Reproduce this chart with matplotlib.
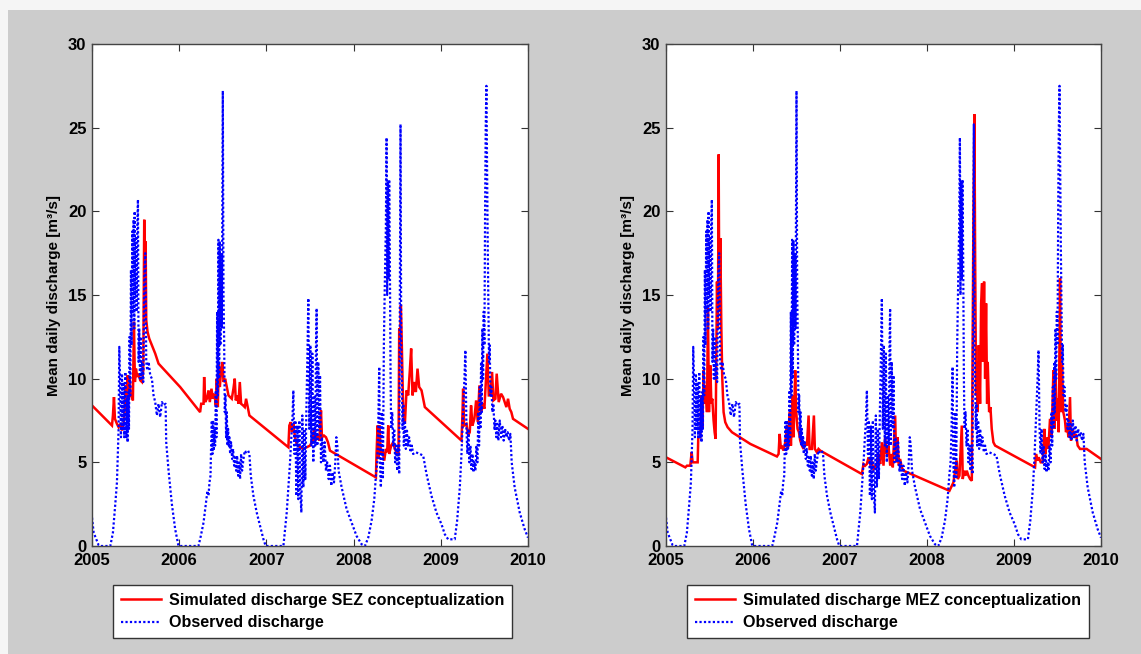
import matplotlib
matplotlib.use('Agg')
import numpy as np
import matplotlib.pyplot as plt
from matplotlib.patches import Rectangle

# observed discharge (decimal year, m3/s)
obs_t = [2005.000, 2005.019, 2005.076, 2005.095, 2005.210, 2005.240, 2005.267, 2005.286, 2005.305, 2005.313,
         2005.324, 2005.332, 2005.344, 2005.351, 2005.363, 2005.370, 2005.382, 2005.393, 2005.401, 2005.408,
         2005.416, 2005.424, 2005.431, 2005.439, 2005.447, 2005.454, 2005.462, 2005.469, 2005.477, 2005.485,
         2005.489, 2005.496, 2005.504, 2005.511, 2005.519, 2005.527, 2005.534, 2005.542, 2005.550, 2005.557,
         2005.565, 2005.576, 2005.588, 2005.599, 2005.611, 2005.622, 2005.634, 2005.649, 2005.668, 2005.687,
         2005.706, 2005.725, 2005.744, 2005.763, 2005.782, 2005.802, 2005.821, 2005.844, 2005.851, 2005.878,
         2005.916, 2005.954, 2005.992,
         2006.221, 2006.248, 2006.279, 2006.305, 2006.324, 2006.336, 2006.347, 2006.359, 2006.366, 2006.374,
         2006.382, 2006.389, 2006.397, 2006.405, 2006.412, 2006.420, 2006.427, 2006.435, 2006.443, 2006.450,
         2006.458, 2006.466, 2006.473, 2006.481, 2006.489, 2006.496, 2006.500, 2006.508, 2006.515, 2006.523,
         2006.531, 2006.538, 2006.546, 2006.553, 2006.561, 2006.569, 2006.576, 2006.584, 2006.595, 2006.607,
         2006.618, 2006.630, 2006.641, 2006.653, 2006.664, 2006.676, 2006.687, 2006.698, 2006.710, 2006.721,
         2006.737, 2006.752, 2006.767, 2006.790, 2006.805, 2006.821, 2006.851, 2006.889, 2006.927, 2006.966,
         2006.992,
         2007.195, 2007.214, 2007.233, 2007.252, 2007.271, 2007.286, 2007.298, 2007.309, 2007.321, 2007.332,
         2007.344, 2007.355, 2007.366, 2007.378, 2007.389, 2007.401, 2007.412, 2007.424, 2007.435, 2007.447,
         2007.458, 2007.469, 2007.481, 2007.492, 2007.504, 2007.515, 2007.527, 2007.538, 2007.550, 2007.561,
         2007.569, 2007.576, 2007.584, 2007.595, 2007.607, 2007.615, 2007.626, 2007.637, 2007.653, 2007.668,
         2007.683, 2007.698, 2007.714, 2007.729, 2007.744, 2007.760, 2007.775, 2007.790, 2007.802, 2007.813,
         2007.828, 2007.863, 2007.920, 2007.977,
         2008.034, 2008.092, 2008.130, 2008.168, 2008.206, 2008.237, 2008.256, 2008.271, 2008.282, 2008.294,
         2008.302, 2008.313, 2008.324, 2008.336, 2008.347, 2008.359, 2008.370, 2008.378, 2008.385, 2008.393,
         2008.401, 2008.408, 2008.416, 2008.424, 2008.431, 2008.443, 2008.454, 2008.466, 2008.477, 2008.489,
         2008.500, 2008.511, 2008.523, 2008.531, 2008.538, 2008.546, 2008.553, 2008.561, 2008.569, 2008.576,
         2008.588, 2008.599, 2008.611, 2008.622, 2008.637, 2008.653, 2008.668, 2008.683, 2008.714, 2008.760,
         2008.798, 2008.836, 2008.893, 2008.950,
         2009.008, 2009.046, 2009.084, 2009.160, 2009.187, 2009.218, 2009.237, 2009.256, 2009.271, 2009.282,
         2009.294, 2009.305, 2009.317, 2009.328, 2009.340, 2009.351, 2009.363, 2009.374, 2009.385, 2009.397,
         2009.408, 2009.420, 2009.431, 2009.439, 2009.447, 2009.454, 2009.462, 2009.469, 2009.477, 2009.485,
         2009.492, 2009.500, 2009.508, 2009.515, 2009.523, 2009.531, 2009.538, 2009.546, 2009.553, 2009.561,
         2009.569, 2009.580, 2009.592, 2009.603, 2009.615, 2009.626, 2009.637, 2009.649, 2009.660, 2009.676,
         2009.691, 2009.706, 2009.721, 2009.737, 2009.752, 2009.767, 2009.782, 2009.798, 2009.813, 2009.847,
         2009.905, 2009.962, 2010.000]
obs_q = [1.7, 0.8, 0.05, 0, 0, 0.8, 2.5, 3.8, 7.0, 11.9,
         9.5, 6.5, 10.3, 7.0, 9.8, 6.5, 10.4, 6.5, 8.8, 6.2,
         9.2, 7.0, 12.5, 9.0, 16.5, 12.0, 18.8, 14.0, 19.5, 13.0,
         20.0, 15.0, 18.5, 14.0, 19.0, 20.7, 11.0, 13.0, 10.0, 12.5,
         10.0, 11.0, 9.8, 16.0, 17.5, 11.0, 10.5, 11.0, 10.2, 10.0,
         9.0, 8.6, 7.8, 8.5, 7.7, 8.6, 8.4, 8.5, 6.2, 4.5,
         2.5, 1.0, 0,
         0, 0.6, 1.4, 2.5, 3.3, 3.0, 3.8, 4.2, 6.0, 7.5,
         5.5, 7.5, 5.7, 7.0, 6.0, 9.3, 6.5, 14.0, 9.0, 18.3,
         10.0, 18.2, 12.0, 17.5, 13.0, 23.0, 27.2, 15.0, 12.5, 8.0,
         9.0, 6.5, 8.0, 6.0, 7.0, 6.0, 6.5, 5.5, 6.2, 5.2,
         5.8, 4.8, 5.3, 4.5, 5.4, 4.2, 5.0, 4.0, 5.5, 4.5,
         5.2, 5.7, 5.6, 5.7, 5.5, 4.2, 3.0, 2.0, 1.2, 0.4,
         0,
         0, 1.0, 2.0, 3.5, 5.0, 6.5, 7.5, 9.3, 5.5, 7.5,
         3.0, 7.2, 2.8, 7.5, 3.2, 2.0, 7.8, 3.5, 7.0, 4.0,
         8.0, 11.0, 14.8, 7.0, 12.0, 6.0, 11.5, 5.0, 9.0, 6.0,
         12.0, 14.2, 6.0, 11.0, 7.0, 10.2, 5.0, 6.5, 5.0, 6.2,
         4.5, 5.0, 4.0, 4.8, 3.6, 4.4, 3.8, 5.0, 6.5, 6.0,
         4.5, 3.5, 2.2, 1.4,
         0.6, 0.1, 0, 0.5, 1.5, 2.8, 4.2, 5.0, 7.0, 10.7,
         5.0, 3.5, 8.0, 4.0, 12.0, 16.0, 19.0, 24.4, 15.0, 21.8,
         16.0, 21.9, 17.0, 10.0, 7.0, 8.0, 6.0, 7.0, 5.0, 6.0,
         4.5, 6.0, 4.3, 15.0, 25.2, 12.0, 10.0, 7.0, 8.5, 6.0,
         7.5, 5.8, 7.0, 6.0, 6.5, 5.6, 6.0, 5.5, 5.6, 5.5,
         5.4, 4.3, 3.0, 2.0,
         1.3, 0.7, 0.4, 0.4, 1.5, 3.5, 5.5, 8.0, 10.0, 11.7,
         7.0, 5.5, 7.0, 5.0, 6.0, 4.6, 5.5, 4.4, 5.0, 4.5,
         6.0, 5.0, 8.0, 6.0, 9.5, 7.0, 11.0, 8.0, 13.0, 10.0,
         14.0, 12.0, 20.0, 25.0, 27.5, 22.0, 18.0, 14.0, 11.0, 12.0,
         9.0, 9.5, 8.0, 8.5, 7.0, 7.5, 6.5, 7.3, 6.3, 7.5,
         6.5, 7.2, 6.3, 7.0, 6.5, 6.8, 6.3, 6.7, 5.0, 3.5,
         2.0, 1.0, 0.5]

# simulated discharge, single elevation zone model
sez_t = [2005.000, 2005.229, 2005.240, 2005.252, 2005.263, 2005.286, 2005.305, 2005.324, 2005.344, 2005.363,
         2005.374, 2005.385, 2005.397, 2005.408, 2005.420, 2005.431, 2005.443, 2005.458, 2005.469, 2005.481,
         2005.492, 2005.504, 2005.519, 2005.534, 2005.553, 2005.573, 2005.588, 2005.599, 2005.607, 2005.615,
         2005.622, 2005.637, 2005.656, 2005.687, 2005.725, 2005.763, 2006.011, 2006.240,
         2006.252, 2006.279, 2006.286, 2006.298, 2006.317, 2006.336, 2006.351, 2006.370, 2006.385, 2006.405,
         2006.420, 2006.431, 2006.443, 2006.454, 2006.466, 2006.481, 2006.496, 2006.508, 2006.527, 2006.546,
         2006.565, 2006.584, 2006.603, 2006.622, 2006.637, 2006.649, 2006.668, 2006.679, 2006.695, 2006.710,
         2006.733, 2006.752, 2006.767, 2006.786, 2006.805, 2007.252,
         2007.263, 2007.279, 2007.294, 2007.309, 2007.328, 2007.347, 2007.385, 2007.424, 2007.462, 2007.500,
         2007.531, 2007.546, 2007.561, 2007.584, 2007.607, 2007.626, 2007.637, 2007.660, 2007.683, 2007.706,
         2007.729, 2008.256,
         2008.263, 2008.275, 2008.286, 2008.298, 2008.313, 2008.332, 2008.351, 2008.370, 2008.385, 2008.397,
         2008.408, 2008.431, 2008.454, 2008.473, 2008.492, 2008.515, 2008.523, 2008.534, 2008.542, 2008.553,
         2008.569, 2008.588, 2008.607, 2008.626, 2008.645, 2008.660, 2008.676, 2008.695, 2008.714, 2008.733,
         2008.752, 2008.779, 2008.798, 2008.817, 2009.237,
         2009.248, 2009.256, 2009.267, 2009.294, 2009.313, 2009.332, 2009.347, 2009.363, 2009.385, 2009.405,
         2009.424, 2009.443, 2009.462, 2009.481, 2009.500, 2009.519, 2009.534, 2009.550, 2009.569, 2009.588,
         2009.603, 2009.626, 2009.641, 2009.664, 2009.691, 2009.714, 2009.733, 2009.752, 2009.771, 2009.790,
         2009.809, 2009.828, 2010.000]
sez_q = [8.4, 7.2, 7.8, 8.9, 7.6, 7.3, 7.1, 7.3, 6.9, 7.4,
         8.0, 9.6, 8.3, 10.2, 9.2, 10.1, 8.9, 9.0, 8.7, 13.4,
         9.8, 10.6, 10.1, 10.3, 9.9, 9.8, 10.5, 19.5, 14.5, 18.2,
         13.5, 12.8, 12.4, 12.0, 11.5, 10.9, 9.5, 8.0,
         8.5, 8.5, 10.1, 8.6, 8.8, 9.3, 8.6, 9.4, 8.8, 9.1,
         8.4, 10.0, 8.3, 11.0, 9.5, 10.5, 11.0, 9.8, 10.0, 9.5,
         9.0, 8.9, 8.8, 9.4, 10.0, 8.7, 9.0, 8.5, 9.8, 8.5,
         8.4, 8.3, 8.8, 8.3, 7.8, 5.9,
         7.2, 7.4, 6.8, 7.3, 6.5, 6.1, 5.9, 5.8, 5.9, 6.0,
         6.3, 7.0, 6.3, 6.6, 6.3, 8.1, 6.5, 6.6, 6.5, 6.2,
         5.7, 4.1,
         5.5, 7.2, 5.2, 7.2, 5.5, 5.7, 5.1, 5.8, 5.6, 7.2,
         5.5, 6.0, 6.2, 5.8, 5.6, 5.5, 13.0, 12.6, 14.4, 12.0,
         8.0, 7.3, 9.3, 9.0, 10.5, 11.8, 9.0, 9.8, 9.2, 10.6,
         9.5, 9.3, 8.8, 8.3, 6.3,
         7.8, 9.4, 7.2, 7.3, 6.6, 6.8, 8.4, 7.2, 7.6, 8.7,
         7.4, 9.6, 8.0, 8.5, 8.2, 10.0, 11.5, 9.0, 9.0, 10.4,
         8.7, 8.8, 10.3, 8.6, 9.1, 8.9, 8.6, 8.3, 8.8, 8.2,
         8.0, 7.6, 7.0]

# simulated discharge, multiple elevation zone model
mez_t = [2005.000, 2005.222, 2005.241, 2005.279, 2005.295, 2005.306, 2005.337, 2005.364, 2005.371, 2005.394,
         2005.406, 2005.417, 2005.433, 2005.444, 2005.456, 2005.471, 2005.482, 2005.494, 2005.509, 2005.521,
         2005.532, 2005.547, 2005.559, 2005.570, 2005.586, 2005.597, 2005.605, 2005.613, 2005.624, 2005.636,
         2005.647, 2005.662, 2005.681, 2005.708, 2005.758, 2005.969, 2006.275,
         2006.294, 2006.306, 2006.321, 2006.332, 2006.351, 2006.371, 2006.390, 2006.401, 2006.420, 2006.436,
         2006.455, 2006.466, 2006.485, 2006.497, 2006.512, 2006.528, 2006.543, 2006.562, 2006.581, 2006.600,
         2006.620, 2006.639, 2006.650, 2006.677, 2006.700, 2006.711, 2006.734, 2006.753, 2006.773, 2007.251,
         2007.270, 2007.289, 2007.309, 2007.328, 2007.347, 2007.366, 2007.385, 2007.423, 2007.443, 2007.462,
         2007.481, 2007.500, 2007.519, 2007.538, 2007.557, 2007.577, 2007.596, 2007.607, 2007.634, 2007.646,
         2007.661, 2007.676, 2007.691, 2007.710, 2007.730, 2008.258,
         2008.285, 2008.304, 2008.323, 2008.342, 2008.354, 2008.373, 2008.400, 2008.411, 2008.426, 2008.442,
         2008.457, 2008.476, 2008.495, 2008.515, 2008.526, 2008.534, 2008.545, 2008.553, 2008.564, 2008.572,
         2008.583, 2008.595, 2008.610, 2008.622, 2008.633, 2008.645, 2008.656, 2008.668, 2008.679, 2008.691,
         2008.698, 2008.714, 2008.729, 2008.744, 2008.763, 2008.783, 2009.242,
         2009.253, 2009.269, 2009.284, 2009.307, 2009.330, 2009.349, 2009.361, 2009.376, 2009.395, 2009.414,
         2009.433, 2009.453, 2009.464, 2009.476, 2009.491, 2009.502, 2009.514, 2009.529, 2009.541, 2009.552,
         2009.567, 2009.586, 2009.598, 2009.613, 2009.625, 2009.644, 2009.655, 2009.675, 2009.694, 2009.713,
         2009.732, 2009.759, 2009.797, 2009.835, 2010.000]
mez_q = [5.3, 4.7, 4.8, 4.8, 5.6, 5.0, 5.0, 5.0, 6.5, 6.5,
         9.0, 7.0, 10.5, 8.5, 9.6, 8.0, 14.2, 8.0, 10.8, 8.5,
         8.8, 7.5, 6.8, 6.4, 15.8, 13.0, 23.4, 14.0, 18.4, 13.0,
         10.0, 8.0, 7.4, 7.1, 6.8, 6.1, 5.35,
         5.5, 6.7, 5.8, 6.0, 5.7, 6.2, 7.2, 5.8, 8.0, 6.0,
         9.0, 6.5, 10.5, 8.0, 7.0, 6.8, 6.3, 6.0, 5.8, 6.2,
         6.0, 7.8, 5.8, 5.8, 7.8, 5.8, 5.6, 5.8, 5.7, 4.3,
         4.9, 4.8, 4.9, 5.3, 4.9, 5.0, 4.6, 4.9, 5.5, 4.9,
         6.2, 4.8, 6.5, 5.5, 6.0, 4.8, 5.5, 4.7, 7.8, 5.0,
         6.5, 4.8, 5.2, 4.7, 4.5, 3.3,
         3.6, 3.8, 4.5, 5.1, 4.0, 4.2, 7.2, 4.0, 4.5, 4.2,
         4.5, 4.2, 4.0, 3.9, 13.3, 20.0, 25.8, 17.5, 9.0, 11.0,
         8.0, 12.0, 8.5, 14.5, 15.7, 11.0, 15.8, 10.0, 14.5, 8.5,
         11.0, 8.0, 8.3, 7.0, 6.2, 6.0, 4.7,
         5.5, 5.1, 5.3, 5.0, 5.0, 7.0, 5.5, 6.5, 5.8, 7.6,
         6.5, 10.5, 7.0, 10.5, 7.5, 8.8, 6.8, 16.0, 8.0, 10.8,
         8.0, 7.5, 6.8, 7.2, 6.5, 8.9, 6.3, 7.0, 6.5, 6.7,
         6.0, 5.8, 5.8, 5.8, 5.2]

years = [2005, 2006, 2007, 2008, 2009, 2010]
yticks = [0, 5, 10, 15, 20, 25, 30]
labels_sim = ['Simulated discharge SEZ conceptualization',
              'Simulated discharge MEZ conceptualization']
label_obs = 'Observed discharge'
ylabel = 'Mean daily discharge [m\u00b3/s]'

plt.rcParams['font.family'] = ['Liberation Sans', 'DejaVu Sans']
plt.rcParams['font.weight'] = 'bold'

W, H = 1141, 654
fig = plt.figure(figsize=(W / 100, H / 100), dpi=100, facecolor='#f5f5f5')
# grey window area (screenshot has a thin light strip on top and left)
fig.patches.append(Rectangle((8 / W, 0), 1, 1 - 10 / H, transform=fig.transFigure,
                             facecolor='#cccccc', edgecolor='none', zorder=-10))

axes_px = [(92, 528), (666, 1101)]
top_px, bot_px = 44, 546
legend_px = [113, 687]
sims = [(sez_t, sez_q), (mez_t, mez_q)]

for i in range(2):
    x0, x1 = axes_px[i]
    ax = fig.add_axes([x0 / W, (H - bot_px) / H, (x1 - x0) / W, (bot_px - top_px) / H])
    ax.set_facecolor('white')
    st, sq = sims[i]
    l1, = ax.plot(st, sq, color='red', lw=1.8, solid_joinstyle='miter')
    l2, = ax.plot(obs_t, obs_q, color='blue', lw=1.6, linestyle=(0, (1, 1)))
    ax.set_xlim(2005, 2010)
    ax.set_ylim(0, 30)
    ax.set_xticks(years)
    ax.set_xticklabels([str(y) for y in years])
    ax.set_yticks(yticks)
    ax.tick_params(direction='in', top=True, right=True, length=5, width=0.8,
                   labelsize=12, color='#333333')
    ax.tick_params(axis='x', pad=5)
    ax.tick_params(axis='y', pad=4)
    for s in ax.spines.values():
        s.set_color('#444444')
        s.set_linewidth(1.0)
    ax.set_ylabel(ylabel, fontsize=11, fontweight='bold', labelpad=5)
    leg = ax.legend([l1, l2], [labels_sim[i], label_obs], loc='upper left',
                    bbox_to_anchor=(legend_px[i] / W, 1 - 585 / H), bbox_transform=fig.transFigure,
                    fancybox=False, framealpha=1, edgecolor='#333333', fontsize=11.6,
                    handlelength=2.5, borderpad=0.5, labelspacing=0.45, handletextpad=0.45,
                    borderaxespad=0)
    leg.get_frame().set_linewidth(1.0)

fig.savefig('out.png', dpi=100, facecolor=fig.get_facecolor())
